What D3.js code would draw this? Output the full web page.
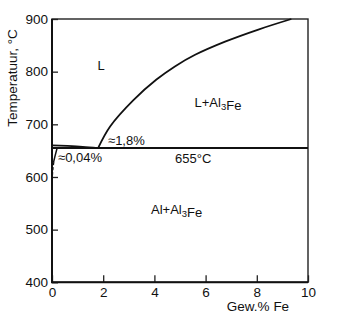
<!DOCTYPE html>
<html>
<head>
<meta charset="utf-8">
<script src="https://cdn.jsdelivr.net/npm/d3@7"></script>
<style>
  body { margin: 0; background: #fff; }
  svg text { font-family: "Liberation Sans", Arial, sans-serif; fill: #111; }
</style>
</head>
<body>
<div id="chart"></div>
<script>
// Al-Fe phase diagram (Al-rich corner)
const xTicks = [0, 2, 4, 6, 8, 10];
const yTicks = [400, 500, 600, 700, 800, 900];

// liquidus Al -> eutectic (wt% Fe, °C)
const liquidusAl = [[0, 660], [0.6, 659], [1.2, 657.5], [1.8, 655]];
// liquidus Al3Fe side
const liquidusAl3Fe = [[1.8, 655], [2.27, 696], [3.18, 746], [4.08, 785], [4.8, 810],
                       [5.59, 832], [6.76, 857], [8.06, 880], [9.35, 900]];
// solvus (solid part and dashed continuation)
const solvus = [[0.2, 655], [0.12, 640], [0.06, 628]];
const solvusDashed = [[0.06, 628], [0.02, 612], [0, 598]];
const eutecticT = 655;

const width = 350, height = 322;
const svg = d3.select('#chart').append('svg')
    .attr('width', width)
    .attr('height', height);

const x = d3.scaleLinear().domain([0, 10]).range([52, 308]);
const y = d3.scaleLinear().domain([400, 900]).range([282.3, 19]);

// axes (ticks pointing inward)
svg.append('g')
    .attr('transform', `translate(0,${y(400)})`)
    .call(d3.axisBottom(x).tickValues(xTicks).tickSizeInner(-7).tickSizeOuter(0).tickPadding(5))
    .call(g => g.select('.domain').remove())
    .call(g => g.selectAll('line').attr('stroke', '#222').attr('stroke-width', 1.3))
    .call(g => g.selectAll('text').style('font-size', '13.5px').attr('fill', '#111'));

svg.append('g')
    .attr('transform', `translate(${x(0)},0)`)
    .call(d3.axisLeft(y).tickValues(yTicks).tickSizeInner(-6).tickSizeOuter(0).tickPadding(4))
    .call(g => g.select('.domain').remove())
    .call(g => g.selectAll('line').attr('stroke', '#222').attr('stroke-width', 1.3))
    .call(g => g.selectAll('text').style('font-size', '13.5px').attr('fill', '#111'));

// frame
svg.append('rect')
    .attr('x', x(0)).attr('y', y(900))
    .attr('width', x(10) - x(0)).attr('height', y(400) - y(900))
    .attr('fill', 'none').attr('stroke', '#222').attr('stroke-width', 1.4);
svg.append('path')
    .attr('d', `M${x(0)},${y(900)}V${y(400)}H${x(10)}`)
    .attr('fill', 'none').attr('stroke', '#111').attr('stroke-width', 2);

// eutectic isotherm
svg.append('line')
    .attr('x1', x(0)).attr('x2', x(10))
    .attr('y1', y(eutecticT)).attr('y2', y(eutecticT))
    .attr('stroke', '#111').attr('stroke-width', 1.8);

const line = d3.line().x(d => x(d[0])).y(d => y(d[1])).curve(d3.curveMonotoneX);
const lineY = d3.line().x(d => x(d[0])).y(d => y(d[1])).curve(d3.curveMonotoneY);

svg.append('path').attr('d', line(liquidusAl))
    .attr('fill', 'none').attr('stroke', '#111').attr('stroke-width', 1.6);
svg.append('path').attr('d', d3.line().x(d => x(d[0])).y(d => y(d[1])).curve(d3.curveCatmullRom)(liquidusAl3Fe))
    .attr('fill', 'none').attr('stroke', '#111').attr('stroke-width', 1.8);
svg.append('path').attr('d', lineY(solvus))
    .attr('fill', 'none').attr('stroke', '#111').attr('stroke-width', 1.5);
svg.append('path').attr('d', lineY(solvusDashed))
    .attr('fill', 'none').attr('stroke', '#111').attr('stroke-width', 1.8)
    .attr('stroke-dasharray', '3,2');

// y title
svg.append('text')
    .attr('transform', 'translate(17,78) rotate(-90)')
    .attr('text-anchor', 'middle')
    .style('font-size', '13.5px')
    .text('Temperatuur, °C');

// x title
svg.append('text')
    .attr('x', 258).attr('y', 311)
    .attr('text-anchor', 'middle')
    .style('font-size', '13.5px')
    .text('Gew.% Fe');

function label(px, py, parts) {
  const t = svg.append('text').attr('x', px).attr('y', py).style('font-size', '13px');
  parts.forEach(p => {
    if (typeof p === 'object') {
      t.append('tspan').attr('dy', 3).style('font-size', '9.5px').text(p.s);
      t.append('tspan').attr('dy', -3).text('');
    } else {
      t.append('tspan').text(p);
    }
  });
  return t;
}

label(97.5, 70, ['L']);
label(194.5, 106.5, ['L+Al', {s: '3'}, 'Fe']);
label(151, 214, ['Al+Al', {s: '3'}, 'Fe']);
label(175, 162.5, ['655°C']);
label(108, 144.5, ['≈1,8%']);
label(58, 162, ['≈0,04%']);
</script>
</body>
</html>
